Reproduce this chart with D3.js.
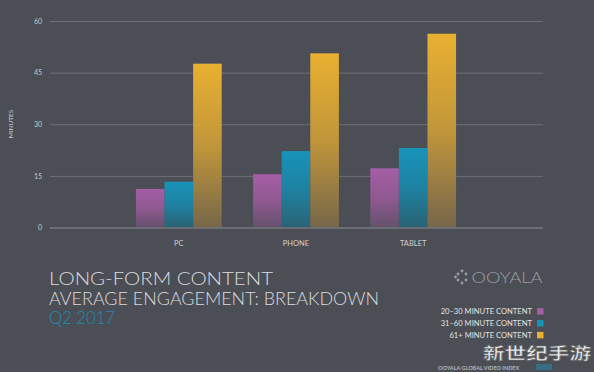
<!DOCTYPE html>
<html><head><meta charset="utf-8">
<script src="https://cdn.jsdelivr.net/npm/d3@7"></script>
<style>html,body{margin:0;padding:0;background:#4b4e55;overflow:hidden}</style>
</head><body>
<script>
const categories = ["PC", "PHONE", "TABLET"];
const seriesNames = ["20–30 MINUTE CONTENT", "31–60 MINUTE CONTENT", "61+ MINUTE CONTENT"];
const series20to30 = [11.2, 15.5, 17.2];
const series31to60 = [13.3, 22.2, 23.1];
const series61plus = [47.6, 50.6, 56.3];
const yTicks = [0, 15, 30, 45, 60];
const titleLines = ["LONG-FORM CONTENT", "AVERAGE ENGAGEMENT: BREAKDOWN"];
const subtitle = "Q2 2017";

const W = 594, H = 372;
const svg = d3.select("body").append("svg").attr("width", W).attr("height", H);
svg.append("rect").attr("width", W).attr("height", H).attr("fill", "#4b4e55");

const colorsTop = ["#a55ea5", "#1793b9", "#e9b031"];
const colorsBot = ["#65516c", "#2a6275", "#76674a"];
const defs = svg.append("defs");
colorsTop.forEach((c, i) => {
  const g = defs.append("linearGradient").attr("id", "g" + i).attr("x1", 0).attr("y1", 0).attr("x2", 0).attr("y2", 1);
  g.append("stop").attr("offset", "0%").attr("stop-color", c);
  g.append("stop").attr("offset", "50%").attr("stop-color", d3.interpolateRgb(c, colorsBot[i])(0.35));
  g.append("stop").attr("offset", "100%").attr("stop-color", colorsBot[i]);
});

const y = d3.scaleLinear().domain([0, 60]).range([227.5, 21]);
const x0 = d3.scaleBand().domain(categories).range([120, 472]).paddingInner(0.268).paddingOuter(0.136);
const x1 = d3.scaleBand().domain(d3.range(3)).range([0, x0.bandwidth()]);

// grid
const yAxis = d3.axisLeft(y).tickValues(yTicks).tickSize(-493).tickPadding(8);
const gy = svg.append("g").attr("transform", "translate(50,0)").call(yAxis);
gy.select(".domain").remove();
gy.selectAll(".tick line").attr("stroke", "#6d7076").attr("stroke-width", 1);
gy.selectAll(".tick text").attr("fill", "#c9cacc").attr("font-family", "Lato, sans-serif").attr("font-size", 7);

svg.append("text").attr("transform", "translate(13,124) rotate(-90)").attr("text-anchor", "middle")
  .attr("fill", "#c9cacc").attr("font-family", "Lato, sans-serif").attr("font-size", 6.5).text("MINUTES");

// bars
const allSeries = [series20to30, series31to60, series61plus];
const groups = svg.append("g").selectAll("g").data(categories).join("g")
  .attr("transform", d => `translate(${x0(d)},0)`);
groups.selectAll("rect").data((d, ci) => allSeries.map((s, si) => ({si, v: s[ci]}))).join("rect")
  .attr("x", d => x1(d.si)).attr("width", x1.bandwidth())
  .attr("y", d => y(d.v)).attr("height", d => y(0) - y(d.v))
  .attr("fill", d => `url(#g${d.si})`);

// baseline on top
svg.append("line").attr("x1", 50).attr("x2", 543).attr("y1", y(0) + 0.5).attr("y2", y(0) + 0.5).attr("stroke", "#7a7d83");

// x labels
const xAxis = d3.axisBottom(x0).tickSize(0).tickPadding(13);
const gx = svg.append("g").attr("transform", `translate(0,${y(0)})`).call(xAxis);
gx.select(".domain").remove();
gx.selectAll("text").attr("fill", "#d0d1d3").attr("font-family", "Lato, sans-serif").attr("font-size", 7.5);

// title
const tg = svg.append("g").attr("font-family", "Lato, sans-serif").attr("font-weight", 300).attr("font-size", 17);
tg.append("text").attr("x", 49).attr("y", 284.5).attr("fill", "#dcdcdd").attr("textLength", 224).attr("lengthAdjust", "spacingAndGlyphs").text(titleLines[0]);
tg.append("text").attr("x", 49).attr("y", 304.5).attr("fill", "#dcdcdd").attr("textLength", 330).attr("lengthAdjust", "spacingAndGlyphs").text(titleLines[1]);
tg.append("text").attr("x", 49).attr("y", 324).attr("fill", "#1a8fb3").attr("textLength", 66).attr("lengthAdjust", "spacingAndGlyphs").text(subtitle);

// logo
const lg = svg.append("g").attr("fill", "#9b9da1");
[[458,274],[462,271],[466,274],[458,280],[462,283],[466,280],[455.5,277]].forEach(p => lg.append("circle").attr("cx", p[0]).attr("cy", p[1]).attr("r", 1.4));
lg.append("text").attr("x", 471.5).attr("y", 282.5).attr("font-family", "Lato, sans-serif").attr("font-weight", 300)
  .attr("font-size", 15).attr("textLength", 71).attr("lengthAdjust", "spacingAndGlyphs").text("OOYALA");

// legend
const leg = svg.append("g").selectAll("g").data(seriesNames).join("g")
  .attr("transform", (d, i) => `translate(0,${311.3 + i * 11.9})`);
leg.append("text").attr("x", 532).attr("y", 2.6).attr("text-anchor", "end").attr("fill", "#e2e2e3")
  .attr("font-family", "Lato, sans-serif").attr("font-size", 7.6).text(d => d);
leg.append("rect").attr("x", 537).attr("y", -3.2).attr("width", 6.5).attr("height", 6.5).attr("fill", (d, i) => colorsTop[i]);

// footer
svg.append("text").attr("x", 438).attr("y", 369.5).attr("fill", "#b5b6b9").attr("font-family", "Lato, sans-serif")
  .attr("font-size", 5.5).attr("font-weight", 700).text("OOYALA GLOBAL VIDEO INDEX");
svg.append("rect").attr("x", 536).attr("y", 364).attr("width", 16).attr("height", 6).attr("fill", "#2a7f98").attr("opacity", 0.7);

// watermark
svg.append("text").attr("x", 483).attr("y", 359).attr("font-family", "Noto Sans CJK SC").attr("font-weight", 700)
  .attr("font-size", 15.5).attr("fill", "#f2f2f2").attr("stroke", "#6a6a6a").attr("stroke-width", 0.7)
  .attr("textLength", 108).attr("lengthAdjust", "spacingAndGlyphs").text("新世纪手游");
</script>
</body></html>
